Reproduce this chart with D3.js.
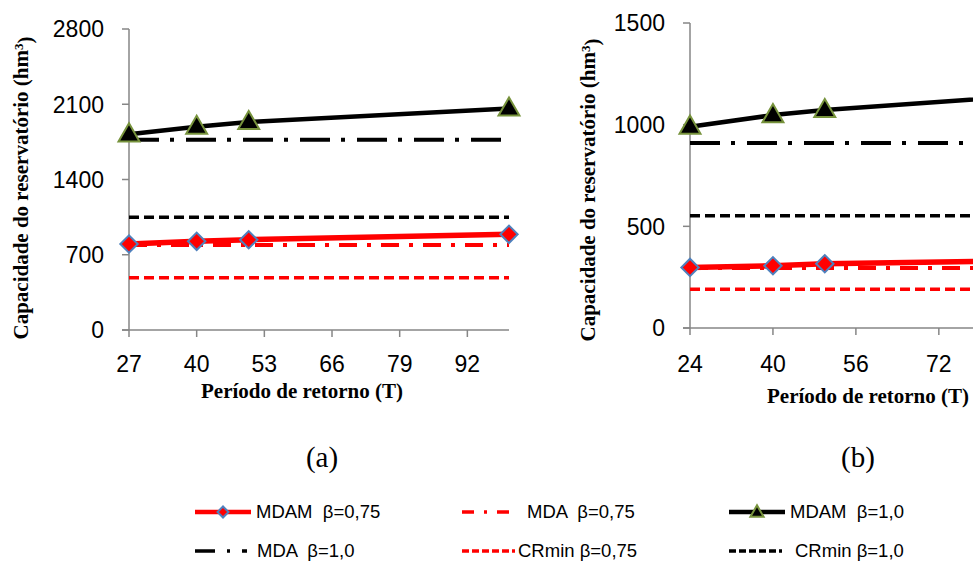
<!DOCTYPE html>
<html lang="pt">
<head>
    <meta charset="UTF-8">
    <script src="https://d3js.org/d3.v7.min.js"></script>
    <title>Capacidade do reservatório</title>
    <style>
        body {
            margin: 0;
            background: #fff;
        }
        svg {
            display: block;
        }
        .tick-label {
            font-family: "Liberation Sans", Arial, sans-serif;
            font-size: 23px;
            fill: #000;
        }
        .axis-title {
            font-family: "Liberation Serif", "Times New Roman", serif;
            font-weight: bold;
            font-size: 21px;
            fill: #000;
        }
        .panel-label {
            font-family: "Liberation Serif", "Times New Roman", serif;
            font-size: 29px;
            fill: #000;
        }
        .legend text {
            font-family: "Liberation Sans", Arial, sans-serif;
            font-size: 18.5px;
            fill: #000;
            white-space: pre;
        }
    </style>
</head>
<body>
    <svg width="973" height="561"></svg>

    <script>
        // panel (a)
        const periodsA = [27, 40, 50, 100];
        const mdamA75 = [800, 825, 840, 890];
        const mdamA10 = [1820, 1890, 1935, 2060];
        const flatA = [27, 100];
        const mdaA75 = [790, 790];
        const mdaA10 = [1770, 1770];
        const crA75 = [485, 485];
        const crA10 = [1050, 1050];
        const xTicksA = [27, 40, 53, 66, 79, 92];
        const yTicksA = [0, 700, 1400, 2100, 2800];

        // panel (b) - the picture is cut at the right edge
        const periodsB = [24, 40, 50, 100];
        const mdamB75 = [298, 306, 316, 335];
        const mdamB10 = [990, 1047, 1072, 1163];
        const flatB = [24, 100];
        const mdaB75 = [295, 295];
        const mdaB10 = [910, 910];
        const crB75 = [190, 190];
        const crB10 = [552, 552];
        const xTicksB = [24, 40, 56, 72];
        const yTicksB = [0, 500, 1000, 1500];

        const legendLabels = ['MDAM  β=0,75', 'MDA  β=0,75', 'MDAM  β=1,0',
                              'MDA  β=1,0', 'CRmin β=0,75', 'CRmin β=1,0'];

        const RED = '#ff0000';
        const BLACK = '#000000';
        const AXIS = '#868686';

        const styles = {
            mdam75: { color: RED, width: 5.5, dash: null, marker: 'diamond' },
            mda75: { color: RED, width: 4, dash: '18,10,4,10' },
            mdam10: { color: BLACK, width: 4.5, dash: null, marker: 'triangle' },
            mda10: { color: BLACK, width: 4, dash: '30,11,4,12' },
            cr75: { color: RED, width: 3.5, dash: '10,5' },
            cr10: { color: BLACK, width: 3.5, dash: '10,5' }
        };

        const svg = d3.select('svg');

        function markerPath(type, scale) {
            if (type === 'diamond') {
                return d3.symbol().type(d3.symbolSquare).size(150 * scale)();
            }
            return d3.symbol().type(d3.symbolTriangle).size(190 * scale)();
        }

        function drawMarkers(g, type, pts, scale) {
            g.selectAll(null)
                .data(pts)
                .enter().append('path')
                .attr('d', markerPath(type, scale))
                .attr('transform', d => type === 'diamond'
                    ? `translate(${d[0]},${d[1]}) rotate(45)`
                    : `translate(${d[0]},${d[1] + 1})`)
                .attr('fill', type === 'diamond' ? RED : BLACK)
                .attr('stroke', type === 'diamond' ? '#4f81bd' : '#77933c')
                .attr('stroke-width', 2);
        }

        function drawPanel(cfg) {
            const x = d3.scaleLinear().domain(cfg.xDomain).range(cfg.xRange);
            const y = d3.scaleLinear().domain(cfg.yDomain).range(cfg.yRange);
            const g = svg.append('g');

            // y axis
            g.append('line')
                .attr('x1', x(cfg.xDomain[0])).attr('x2', x(cfg.xDomain[0]))
                .attr('y1', y(cfg.yDomain[0])).attr('y2', y(cfg.yDomain[1]))
                .attr('stroke', AXIS).attr('stroke-width', 1.5);
            g.selectAll(null).data(cfg.yTicks).enter().append('line')
                .attr('x1', x(cfg.xDomain[0]) - 7).attr('x2', x(cfg.xDomain[0]))
                .attr('y1', d => y(d)).attr('y2', d => y(d))
                .attr('stroke', AXIS).attr('stroke-width', 1.5);
            g.selectAll(null).data(cfg.yTicks).enter().append('text')
                .attr('class', 'tick-label')
                .attr('x', x(cfg.xDomain[0]) - 25)
                .attr('y', d => y(d))
                .attr('dy', '0.36em')
                .attr('text-anchor', 'end')
                .text(d => d);

            // x axis
            g.append('line')
                .attr('x1', x(cfg.xDomain[0]) - 7).attr('x2', x(cfg.xDomain[1]))
                .attr('y1', y(0)).attr('y2', y(0))
                .attr('stroke', AXIS).attr('stroke-width', 1.5);
            g.selectAll(null).data(cfg.xTicks).enter().append('line')
                .attr('x1', d => x(d)).attr('x2', d => x(d))
                .attr('y1', y(0)).attr('y2', y(0) + 7)
                .attr('stroke', AXIS).attr('stroke-width', 1.5);
            g.selectAll(null).data(cfg.xTicks).enter().append('text')
                .attr('class', 'tick-label')
                .attr('x', d => x(d))
                .attr('y', cfg.xLabelY)
                .attr('dy', '0.36em')
                .attr('text-anchor', 'middle')
                .text(d => d);

            // axis titles
            const yt = g.append('text')
                .attr('class', 'axis-title')
                .attr('transform', `translate(${cfg.yTitleX},${cfg.yTitleY}) rotate(-90)`)
                .attr('text-anchor', 'middle')
                .attr('dy', '0.35em');
            yt.append('tspan').text('Capacidade do reservatório (hm');
            yt.append('tspan').attr('dy', '-0.45em').style('font-size', '13px').text('3');
            yt.append('tspan').attr('dy', '0.45em').text(')');

            g.append('text')
                .attr('class', 'axis-title')
                .attr('x', cfg.xTitleX)
                .attr('y', cfg.xTitleY)
                .attr('text-anchor', 'middle')
                .text('Período de retorno (T)');

            g.append('text')
                .attr('class', 'panel-label')
                .attr('x', cfg.labelX)
                .attr('y', 467)
                .attr('text-anchor', 'middle')
                .text(cfg.label);

            const line = d3.line().x(d => x(d[0])).y(d => y(d[1]));
            const order = ['cr75', 'cr10', 'mda75', 'mda10', 'mdam75', 'mdam10'];
            order.forEach(key => {
                const s = cfg.series[key];
                const st = styles[key];
                const pts = s.x.map((v, i) => [v, s.y[i]]);
                g.append('path')
                    .attr('d', line(pts))
                    .attr('fill', 'none')
                    .attr('stroke', st.color)
                    .attr('stroke-width', st.width)
                    .attr('stroke-dasharray', st.dash)
                    .attr('stroke-linejoin', 'round');
                if (st.marker) {
                    drawMarkers(g, st.marker, pts.map(p => [x(p[0]), y(p[1])]), 1);
                }
            });
        }

        drawPanel({
            xDomain: [27, 100], xRange: [129, 509],
            yDomain: [0, 2800], yRange: [330, 29],
            xTicks: xTicksA, yTicks: yTicksA,
            xLabelY: 364, yTitleX: 21, yTitleY: 188,
            xTitleX: 302, xTitleY: 398,
            labelX: 322, label: '(a)',
            series: {
                mdam75: { x: periodsA, y: mdamA75 },
                mdam10: { x: periodsA, y: mdamA10 },
                mda75: { x: flatA, y: mdaA75 },
                mda10: { x: flatA, y: mdaA10 },
                cr75: { x: flatA, y: crA75 },
                cr10: { x: flatA, y: crA10 }
            }
        });

        drawPanel({
            xDomain: [24, 100], xRange: [690, 1084],
            yDomain: [0, 1500], yRange: [328, 23],
            xTicks: xTicksB, yTicks: yTicksB,
            xLabelY: 364, yTitleX: 588, yTitleY: 190,
            xTitleX: 868, xTitleY: 403,
            labelX: 858, label: '(b)',
            series: {
                mdam75: { x: periodsB, y: mdamB75 },
                mdam10: { x: periodsB, y: mdamB10 },
                mda75: { x: flatB, y: mdaB75 },
                mda10: { x: flatB, y: mdaB10 },
                cr75: { x: flatB, y: crB75 },
                cr10: { x: flatB, y: crB10 }
            }
        });

        // legend
        const legendKeys = ['mdam75', 'mda75', 'mdam10', 'mda10', 'cr75', 'cr10'];
        const legendDash = {
            mda75: '12,10,3,10', mda10: '20,12,3,12',
            cr75: '7,3', cr10: '7,3'
        };
        const colX = [195, 462, 729];
        const rowY = [512, 551];
        const lineLen = [56, 50, 56, 52, 53, 53];
        const textGap = [5, 15, 5, 10, 3, 13];

        const legend = svg.append('g').attr('class', 'legend');
        legendKeys.forEach((key, i) => {
            const cx = colX[i % 3];
            const cy = rowY[Math.floor(i / 3)];
            const st = styles[key];
            const item = legend.append('g');
            item.append('line')
                .attr('x1', cx).attr('x2', cx + lineLen[i])
                .attr('y1', cy).attr('y2', cy)
                .attr('stroke', st.color)
                .attr('stroke-width', st.marker ? 4.5 : 3.5)
                .attr('stroke-dasharray', legendDash[key] || null);
            if (st.marker) {
                drawMarkers(item, st.marker, [[cx + lineLen[i] / 2, cy]], 0.4);
            }
            item.append('text')
                .attr('x', cx + lineLen[i] + textGap[i])
                .attr('y', cy)
                .attr('dy', '0.35em')
                .text(legendLabels[i]);
        });
    </script>
</body>
</html>
